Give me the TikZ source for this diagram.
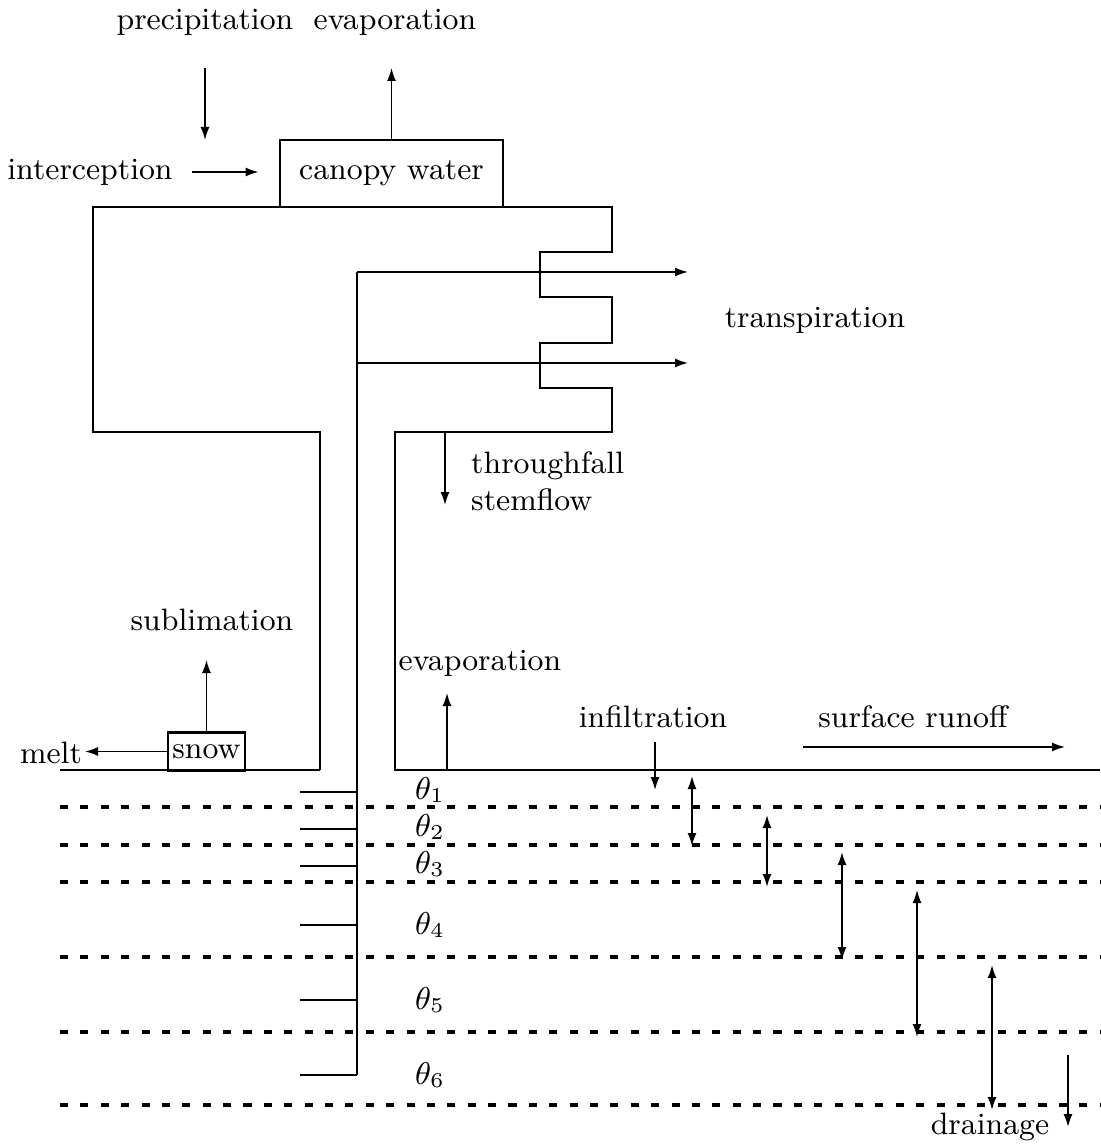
\documentclass[tikz,border=0pt]{standalone}
\usetikzlibrary{arrows.meta}
\tikzset{
  lbl/.style={inner sep=1pt, font=\fontsize{8.8}{10.5}\selectfont},
  flow/.style={-{Latex[length=1.3mm,width=0.9mm]}, line width=0.45pt},
  both/.style={{Latex[length=1.3mm,width=0.9mm]}-{Latex[length=1.3mm,width=0.9mm]}, line width=0.5pt},
  outline/.style={line width=0.8pt},
  layer/.style={line width=1pt, dash pattern=on 2.3pt off 3.5pt},
}
\begin{document}
\begin{tikzpicture}[x=1cm,y=-1cm]
  \useasboundingbox (0,0) rectangle (11,11.44);
  % canopy
  \node[lbl] (precip) at (2.05,0.22) {precipitation};
  \node[lbl] (evtop) at (3.95,0.22) {evaporation};
  \node[lbl] (intercept) at (0.90,1.72) {interception};
  \node[lbl, draw, outline, minimum width=2.23cm, minimum height=0.67cm] (canopy) at (3.915,1.735) {canopy water};
  \coordinate (pr0) at (2.05,0.68);
  \coordinate (pr1) at (2.05,1.40);
  \coordinate (ev1) at (3.915,0.68);
  \draw[flow] (pr0) -- (pr1);
  \draw[flow] (canopy.north) -- (ev1);
  \draw[flow] ([xshift=0.15cm]intercept.east) -- ([xshift=-0.2cm]canopy.west |- intercept.east);
  \draw[outline] (3.20,7.70) -- (3.20,4.32) -- (0.93,4.32) -- (0.93,2.07) -- (6.12,2.07)
    -- (6.12,2.52) -- (5.40,2.52) -- (5.40,2.97) -- (6.12,2.97) -- (6.12,3.43)
    -- (5.40,3.43) -- (5.40,3.88) -- (6.12,3.88) -- (6.12,4.32) -- (3.95,4.32)
    -- (3.95,7.70) -- (11,7.70);
  \draw[outline] (0.60,7.70) -- (3.20,7.70);
  % stem and roots
  \coordinate (st1) at (3.57,2.72);
  \coordinate (st2) at (3.57,3.63);
  \coordinate (tr1) at (6.88,2.72);
  \coordinate (tr2) at (6.88,3.63);
  \draw[flow] (st1) -- (tr1);
  \draw[flow] (st2) -- (tr2);
  \node[lbl] (transp) at (8.15,3.20) {transpiration};
  \draw[line width=0.5pt] (st1) -- (3.57,10.75);
  \foreach \y in {7.92,8.29,8.66,9.25,10.00,10.75}
    \draw[line width=0.6pt] (3.00,\y) -- (3.57,\y);
  % throughfall
  \coordinate (tf0) at (4.45,4.32);
  \coordinate (tf1) at (4.45,5.05);
  \draw[flow] (tf0) -- (tf1);
  \node[lbl, anchor=west, align=left] (thru) at (4.67,4.81) {throughfall\\stemflow};
  % snow
  \node[lbl, draw, outline, minimum width=0.77cm, minimum height=0.38cm] (snow) at (2.065,7.515) {snow};
  \node[lbl] (subl) at (2.12,6.20) {sublimation};
  \node[lbl] (melt) at (0.51,7.53) {melt};
  \coordinate (sb1) at (2.065,6.60);
  \coordinate (ml1) at (0.85,7.53);
  \draw[flow] (snow.north) -- (sb1);
  \draw[flow] (snow.west) -- (ml1 |- snow.west);
  % surface
  \node[lbl] (evlow) at (4.80,6.63) {evaporation};
  \node[lbl] (infil) at (6.53,7.17) {infiltration};
  \node[lbl] (runoff) at (9.13,7.17) {surface runoff};
  \coordinate (el0) at (4.47,7.70);
  \coordinate (el1) at (4.47,6.93);
  \coordinate (in0) at (6.55,7.42);
  \coordinate (in1) at (6.55,7.90);
  \coordinate (ro0) at (8.03,7.47);
  \coordinate (ro1) at (10.65,7.47);
  \draw[flow] (el0) -- (el1);
  \draw[flow] (in0) -- (in1);
  \draw[flow] (ro0) -- (ro1);
  % soil layers
  \foreach \y in {8.07,8.45,8.82,9.57,10.32,11.05}
    \draw[layer] (0.60,\y) -- (11,\y);
  \foreach \y [count=\i] in {7.90,8.27,8.64,9.25,10.00,10.75}
    \node[lbl] (th\i) at (4.30,\y) {$\theta_{\i}$};
  \foreach \x/\a/\b [count=\i] in {6.92/7.76/8.46, 7.67/8.15/8.87, 8.42/8.52/9.60, 9.17/8.90/10.37, 9.92/9.65/11.10} {
    \coordinate (up\i) at (\x,\a);
    \coordinate (dn\i) at (\x,\b);
    \draw[both] (up\i) -- (dn\i);
  }
  \coordinate (dr0) at (10.68,10.55);
  \coordinate (dr1) at (10.68,11.27);
  \draw[flow] (dr0) -- (dr1);
  \node[lbl] (drain) at (9.90,11.27) {drainage};
\end{tikzpicture}
\end{document}
